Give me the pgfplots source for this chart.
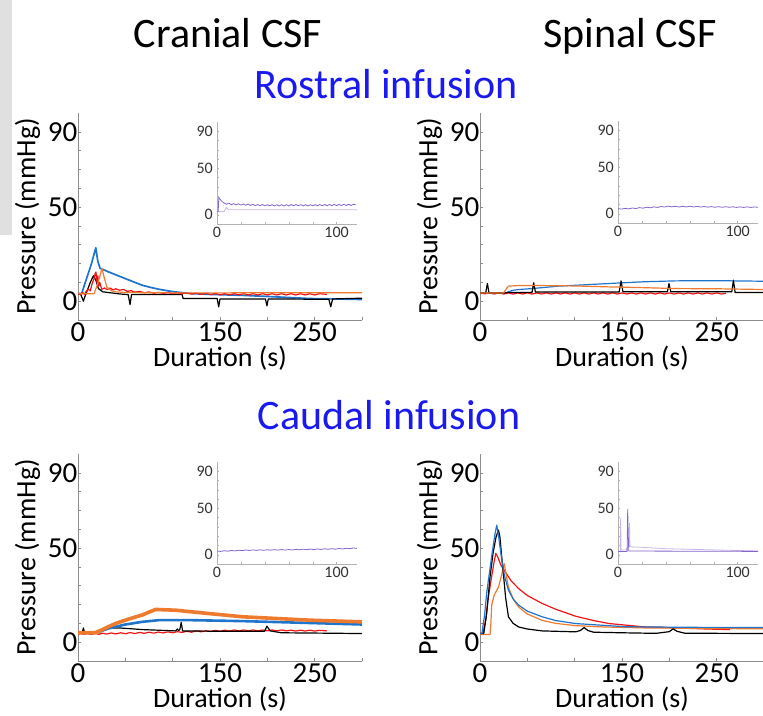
\documentclass[border=0pt]{standalone}
\usepackage{fontspec}
\setmainfont{Carlito}
\usepackage{pgfplots}
\pgfplotsset{compat=1.18}
\definecolor{cblue}{HTML}{1F74CC}
\definecolor{corange}{HTML}{EE7A2E}
\definecolor{cred}{HTML}{F01414}
\definecolor{cpurple}{HTML}{8466C8}
\definecolor{clpurple}{HTML}{C8B6E8}
\definecolor{cgreybar}{HTML}{E0E0E0}
\definecolor{ctitle}{HTML}{1A1AF0}
\pgfplotsset{
  mainax/.style={
    scale only axis, width=284pt, height=207pt, anchor=south west,
    xmin=0, xmax=300, ymin=-10, ymax=100,
    axis lines=left, axis line style={-, draw=black!45, line width=0.7pt},
    tick style={draw=black!45, line width=0.5pt}, major tick length=3pt, tick align=inside,
    xtick={0,50,...,300}, xticklabels={0,,,150,,250,},
    ytick={0,10,...,90}, yticklabels={0,,,,,50,,,,90},
    /pgf/number format/assume math mode=true,
    tick label style={font=\fontsize{29}{31}\selectfont},
    yticklabel style={inner xsep=0.5pt},
    xticklabel style={inner ysep=2pt},
    xlabel={Duration (s)}, ylabel={Pressure (mmHg)},
    every axis x label/.style={at={(axis description cs:0.5,0)}, anchor=north, yshift=-26pt, inner sep=0pt, font=\fontsize{28}{32}\selectfont},
    every axis y label/.style={at={(axis description cs:-0.178,0.5)}, rotate=90, anchor=center, inner sep=0pt, font=\fontsize{28}{32}\selectfont},
    every axis plot/.append style={line width=1.2pt, line join=round},
  },
  insax/.style={
    scale only axis, width=140pt, height=102pt, anchor=south west,
    xmin=0, xmax=117, ymin=-10, ymax=100,
    axis lines=left, axis line style={-, draw=black!30, line width=0.6pt},
    tick style={draw=black!30, line width=0.4pt}, major tick length=2pt, tick align=inside,
    xtick={0,20,...,100}, xticklabels={0,,,,,100},
    ytick={0,10,...,90}, yticklabels={0,,,,,50,,,,90},
    /pgf/number format/assume math mode=true,
    tick label style={font=\fontsize{16}{18}\selectfont, text=black!80},
    yticklabel style={inner xsep=4pt},
    xticklabel style={inner ysep=3pt},
    every axis plot/.append style={line width=0.8pt, line join=round},
  },
}
\begin{document}
\begin{tikzpicture}[x=1pt,y=1pt]
\useasboundingbox (0pt,0pt) rectangle (763pt,-715pt);
\clip (0pt,0pt) rectangle (763pt,-715pt);
\fill[cgreybar] (0pt,0pt) rectangle (12pt,-235pt);
\node[anchor=base, font=\fontsize{42}{46}\selectfont] at (228pt,-47pt) {Cranial CSF};
\node[anchor=base, font=\fontsize{42}{46}\selectfont] at (630pt,-47pt) {Spinal CSF};
\node[anchor=base, font=\fontsize{42}{46}\selectfont, text=ctitle] at (386pt,-98pt) {Rostral infusion};
\node[anchor=base, font=\fontsize{42}{46}\selectfont, text=ctitle] at (389pt,-429pt) {Caudal infusion};

% ---------------- Panel 1: rostral, cranial
\begin{axis}[mainax, at={(78pt,-320pt)}]
\addplot[cblue, line width=1.7pt] coordinates {(0,4)(4,4.2)(9,12)(14,19.5)(18.8,28.4)(21,21)(23.4,17.4)(28,16.5)(32,15.6)(40,14)(50,12)(60,10)(67.7,8.5)(76,7.4)(85,6.4)(95,5.5)(103,4.9)(121,4.0)(140,3.6)(174,3.1)(209,2.3)(245,1.4)(270,1.2)(300,0.9)};
\addplot[black] coordinates {(0,3.8)(3,3.5)(5.7,0)(7,2)(10,6)(13,10)(16.3,13.5)(19,11)(21.6,6.7)(26,5)(32,4.6)(45,3.8)(53,3.5)(55,-1.8)(56.5,3.5)(80,3.6)(110,3.5)(111,1.4)(147,1.4)(148.6,-3)(150,1.2)(198,1.2)(199.6,-2.5)(201,1.2)(265,1.0)(267,-3)(269,1.2)(300,1.6)};
\addplot[cred] coordinates {(0,4)(3,3.5)(5,4.6)(7,3.6)(9,5.5)(11,6.4)(13,5.5)(15,9.5)(17,12)(18,14.5)(19,15.5)(20,10)(21,13.5)(22,8)(23,10)(25,6.3)(28,7)(31,6.2)(34,7)(37,6)(40,6.6)(44,5.8)(48,6.3)(52,5.2)(56,5.6)(60,4.8)(65,5.2)(70,4.5)(75,4.9)(80,4.2)(85,4.7)(90,4.1)(95,4.6)(100,4.0)(105,4.5)(110,3.9)(115,4.4)(120,3.8)(125,4.3)(130,3.6)(135,4.2)(140,3.5)(145,4.1)(150,3.4)(155,4.0)(160,3.4)(165,4.0)(170,3.4)(175,4.0)(180,3.3)(185,4.0)(190,3.3)(195,4.0)(200,3.3)(205,4.0)(210,3.3)(215,4.0)(220,3.3)(225,4.0)(230,3.3)(235,4.0)(240,3.3)(245,4.0)(250,3.3)(255,4.0)(263,3.6)};
\addplot[corange] coordinates {(0,4)(17,4)(20,8)(23,13)(25.3,17.4)(28,12)(30.5,7.5)(35,5.6)(39,5)(50,4.6)(100,4.4)(300,4.5)};
\end{axis}
\begin{axis}[insax, at={(217pt,-224pt)}]
\addplot[clpurple] coordinates {(0,3.5)(6,3.5)(8,8)(9,6)(10,5.3)(117,5.3)};
\addplot[cpurple] coordinates {(0,3.5)(1,3.5)(1.5,18.7)(3,16)(4.5,14)(6.4,12.3)(8,11.3)(10,12.5)(12,10.8)(14,12)(16,10.6)(18,11.8)(20,10.4)(22,11.6)(24,10.2)(26,11.4)(28,10)(30,11.2)(32,9.8)(34,11)(36,9.8)(38,11)(40,9.6)(42,10.8)(44,9.6)(46,10.8)(48,9.5)(50,10.8)(52,9.5)(54,10.8)(56,9.4)(58,10.9)(60,9.4)(62,11)(64,9.6)(66,11)(68,9.6)(70,10.9)(72,9.5)(74,10.8)(76,9.5)(78,10.8)(80,9.6)(82,10.9)(84,9.6)(86,11)(88,9.7)(90,11)(92,9.7)(94,11)(96,9.8)(98,11.2)(100,9.8)(102,11.2)(104,9.9)(106,11.2)(108,10)(110,11.3)(112,10)(114,11.3)(116,10.5)};
\end{axis}

% ---------------- Panel 2: rostral, spinal
\begin{axis}[mainax, at={(480pt,-320pt)}]
\addplot[cblue] coordinates {(0,4.4)(26.6,4.4)(30,5)(35,5.8)(40.8,6.2)(55,6.7)(70,7.4)(83,8)(110,8.7)(136.5,9.4)(172,10.3)(207,10.8)(250,10.9)(300,10.6)};
\addplot[cred] coordinates {(0,4.4)(5,3.9)(10,4.4)(15,3.8)(20,4.4)(25,3.8)(30,4.4)(35,3.8)(40,4.4)(45,3.8)(50,4.4)(55,3.8)(60,4.4)(65,3.8)(70,4.4)(75,3.8)(80,4.4)(85,3.8)(90,4.4)(95,3.8)(100,4.4)(105,3.8)(110,4.4)(115,3.8)(120,4.4)(125,3.8)(130,4.4)(135,3.8)(140,4.4)(145,3.8)(150,4.4)(155,3.8)(160,4.4)(165,3.8)(170,4.4)(175,3.8)(180,4.4)(185,3.8)(190,4.4)(195,3.8)(200,4.4)(205,3.8)(210,4.4)(215,3.8)(220,4.4)(225,3.8)(230,4.4)(235,3.8)(240,4.4)(245,3.8)(250,4.4)(255,3.8)(260,4.2)};
\addplot[black] coordinates {(0,4.4)(6,4.4)(7.8,9.4)(9.5,4.4)(26,4.4)(30,4.6)(55,4.7)(56.7,9.8)(58.5,4.9)(147,4.9)(149,10.8)(151,5.0)(198,5.0)(199.6,9.4)(201.5,5.0)(266,5.0)(267.7,11.2)(269.5,4.6)(300,4.6)};
\addplot[corange] coordinates {(0,4.4)(25,4.4)(27,6)(30,8)(40,8.3)(65.6,8.3)(100,8.1)(136,7.6)(172,7.2)(207,6.7)(250,6.6)(300,6.2)};
\end{axis}
\begin{axis}[insax, at={(618pt,-223pt)}]
\addplot[cpurple] coordinates {(0,5.5)(3,5)(6,5.8)(9,5.2)(12,6.2)(15,5.6)(18,6.6)(21,6)(24,7)(27,6.4)(30,7.4)(33,6.8)(36,7.8)(39,7.2)(42,8.2)(45,7.4)(48,8)(51,7.2)(54,8)(57,7.3)(60,8.1)(63,7.3)(66,7.9)(69,7.2)(72,7.8)(75,7.1)(78,7.7)(81,7)(84,7.6)(87,6.9)(90,7.6)(93,6.9)(96,7.5)(99,6.8)(102,7.4)(105,6.8)(108,7.4)(111,6.8)(114,7.3)(117,7)};
\end{axis}

% ---------------- Panel 3: caudal, cranial
\begin{axis}[mainax, at={(78pt,-661pt)}]
\addplot[cred] coordinates {(0,4)(3,4.8)(6,4.2)(10,4.6)(14,4.1)(18,4.7)(22,4.2)(26,4.8)(30,4.3)(35,4.9)(40,4.4)(45,5)(50,4.5)(55,5.1)(60,4.6)(65,5.2)(70,4.7)(75,5.3)(80,4.8)(85,5.4)(90,4.9)(95,5.5)(100,5.0)(105,5.6)(110,5.2)(115,5.8)(120,5.3)(125,6)(130,5.5)(135,6.1)(140,5.7)(145,6.3)(150,5.8)(155,6.4)(160,5.9)(165,6.5)(170,6)(175,6.5)(180,6)(185,6.5)(190,6)(195,6.5)(200,6)(205,6.5)(210,6)(215,6.5)(220,6)(225,6.4)(230,5.9)(235,6.4)(240,5.9)(245,6.4)(250,5.9)(255,6.3)(263,6.0)};
\addplot[black] coordinates {(0,5)(4.5,5)(5.7,7.6)(7,5)(14,4.6)(22,5.5)(29,7.3)(43,7.6)(68,6.7)(103,6.0)(105,7)(106,6.3)(107.5,6.5)(109,10.5)(110.5,6)(150,5.8)(197,5.8)(199.6,8.5)(203,6)(215,5.0)(260,4.8)(300,4.6)};
\addplot[cblue, line width=2.6pt] coordinates {(0,5)(18,5)(25,6)(32,7.3)(50,9.4)(67.7,10.8)(85,11.7)(120,11.7)(174,11.2)(245,10.2)(300,9.4)};
\addplot[corange, line width=3.6pt] coordinates {(0,5)(18,5)(25,6.5)(32,8.2)(40,10)(50,11.7)(60,13.3)(67.7,14.4)(75,16)(82,17.4)(103,17.0)(138.6,15.2)(174,13.5)(209,12.6)(245,11.7)(300,10.8)};
\end{axis}
\begin{axis}[insax, at={(217pt,-564pt)}]
\addplot[cpurple] coordinates {(0,4)(3,3.6)(6,4.3)(9,3.8)(12,4.6)(15,4.1)(18,4.9)(21,4.4)(24,5.1)(27,4.6)(30,5.2)(33,4.7)(36,5.3)(39,4.8)(42,5.4)(45,4.9)(48,5.5)(51,5)(54,5.6)(57,5)(60,5.6)(63,5.1)(66,5.8)(69,5.3)(72,6)(75,5.4)(78,6.1)(81,5.6)(84,6.2)(87,5.7)(90,6.4)(93,5.9)(96,6.5)(99,6)(102,6.7)(105,6.2)(108,7)(111,6.5)(114,7.3)(117,6.8)};
\end{axis}

% ---------------- Panel 4: caudal, spinal
\begin{axis}[mainax, at={(480pt,-661pt)}]
\addplot[cred] coordinates {(0,4.6)(3,4.6)(6,12)(8.9,24)(12,34)(15,43)(16.7,47.2)(19,45)(22,41)(26.6,37.4)(33,32.5)(40.8,28.5)(50,24.8)(65.6,20.6)(80,17.5)(101,13.8)(120,11.5)(136.5,9.9)(172,8.2)(207,7.6)(240,7)(264,6.7)};
\addplot[corange] coordinates {(0,4.1)(10.6,4.1)(11.5,9.9)(12.4,20)(15,25)(19.5,29.3)(23,36)(25.5,41.8)(28,35)(30,29.3)(35,23)(40.8,18.7)(50,15)(65.6,11.6)(80,10)(101,8.8)(130,8.1)(172,7.6)(240,7.3)(300,7.1)};
\addplot[black] coordinates {(0,4.6)(4,4.6)(7,15)(10.6,34.8)(14,48)(17,56)(19.5,59.6)(21,56)(23,45)(25,34.8)(27,24)(30,13.5)(35,10)(40.8,8.1)(50,7)(65.6,6.0)(101,5.5)(106,6.2)(110,7.8)(114,6.2)(120,5.3)(150,5.0)(186,4.7)(200,5.6)(204,7.1)(208,5.8)(216,4.8)(250,4.7)(300,4.6)};
\addplot[cblue] coordinates {(0,4.6)(2,4.6)(5,15)(7,26)(10,37)(13,48)(16,58)(17.7,62.2)(20,55)(23,43.6)(26,35)(30,27.7)(35,23)(40.8,19.7)(50,16.5)(65.6,13.5)(80,11.5)(101,9.9)(154,8.2)(220,7.9)(300,7.8)};
\end{axis}
\begin{axis}[insax, at={(618pt,-564pt)}]
\addplot[clpurple] coordinates {(0,3.5)(1.8,3.5)(2.2,39)(2.6,5)(7,5)(8,8.6)(9.2,8.6)(9.6,34)(10,8.6)(20,8)(40,6.5)(117,4)};
\addplot[cpurple] coordinates {(0,3.5)(7.6,3.5)(8.1,49)(8.6,20)(9,4)(117,3.6)};
\end{axis}
\end{tikzpicture}
\end{document}
